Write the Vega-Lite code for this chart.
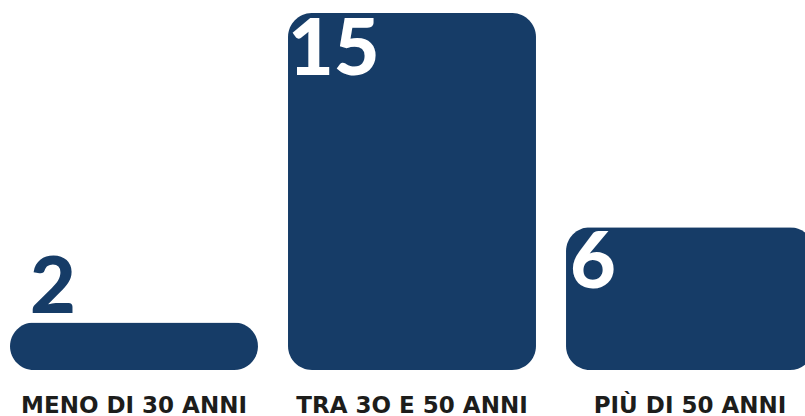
{
  "$schema": "https://vega.github.io/schema/vega-lite/v6.json",
  "width": 824,
  "height": 370,
  "autosize": {"type": "none"},
  "padding": {"top": 0, "left": 0, "right": 0, "bottom": 46},
  "background": "white",
  "config": {"view": {"stroke": null}},
  "data": {"values": [
    {"fascia": "MENO DI 30 ANNI", "n": 2},
    {"fascia": "TRA 3O E 50 ANNI", "n": 15},
    {"fascia": "PIÙ DI 50 ANNI", "n": 6}
  ]},
  "encoding": {
    "x": {
      "field": "fascia", "type": "nominal", "sort": null,
      "scale": {"paddingInner": 0.108, "paddingOuter": 0.036},
      "axis": {"title": null, "domain": false, "ticks": false, "labelFont": "DejaVu Sans", "labelFontWeight": "bold", "labelFontSize": 23, "labelColor": "#1d1d1b", "labelPadding": 24, "labelAngle": 0, "labelLimit": 0}
    },
    "y": {"field": "n", "type": "quantitative", "scale": {"domain": [0, 15.546], "nice": false}, "axis": null}
  },
  "layer": [
    {"mark": {"type": "bar", "cornerRadius": 24, "color": "#163c67"}},
    {
      "transform": [{"filter": "datum.n == 15"}],
      "mark": {"type": "text", "align": "left", "baseline": "alphabetic", "dx": 0, "dy": 62, "font": "Lato", "fontWeight": 900, "fontSize": 79, "color": "white"},
      "encoding": {"x": {"field": "fascia", "type": "nominal", "sort": null, "bandPosition": 0}, "text": {"field": "n"}}
    },
    {
      "transform": [{"filter": "datum.n == 6"}],
      "mark": {"type": "text", "align": "left", "baseline": "alphabetic", "dx": 4, "dy": 61, "font": "Lato", "fontWeight": 900, "fontSize": 79, "color": "white"},
      "encoding": {"x": {"field": "fascia", "type": "nominal", "sort": null, "bandPosition": 0}, "text": {"field": "n"}}
    },
    {
      "transform": [{"filter": "datum.n == 2"}],
      "mark": {"type": "text", "align": "left", "baseline": "alphabetic", "dx": 20, "dy": -9, "font": "Lato", "fontWeight": 900, "fontSize": 79, "color": "#163c67"},
      "encoding": {"x": {"field": "fascia", "type": "nominal", "sort": null, "bandPosition": 0}, "text": {"field": "n"}}
    }
  ]
}
